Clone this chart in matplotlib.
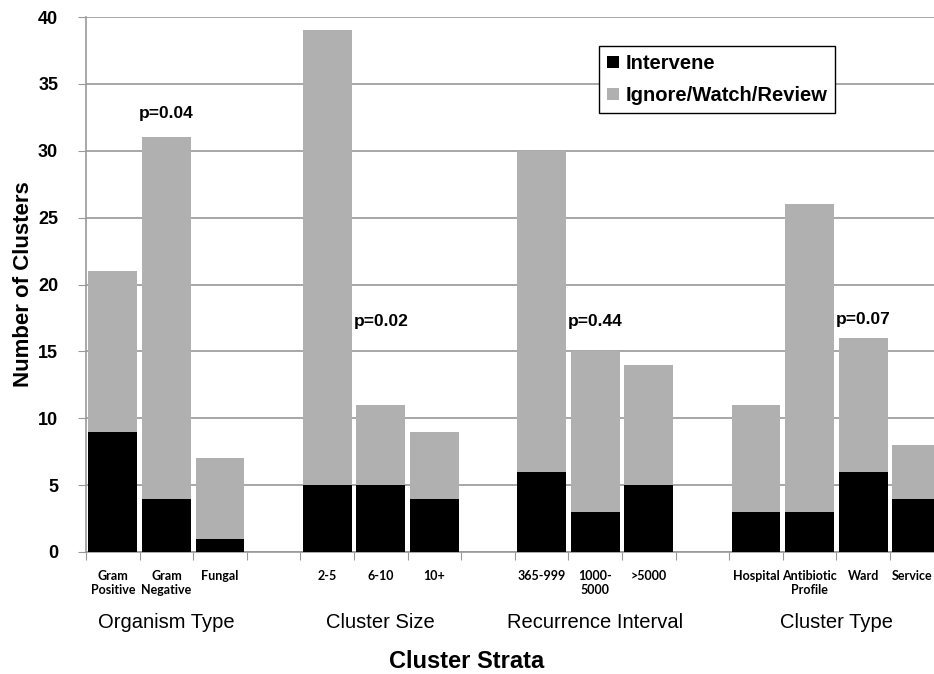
import matplotlib
matplotlib.use("Agg")
import matplotlib.pyplot as plt
import matplotlib.transforms as mtransforms
import numpy as np

# bar labels, one slot per bar, "" for the gaps between groups
labels = ["Gram\nPositive", "Gram\nNegative", "Fungal", "",
          "2-5", "6-10", "10+", "",
          "365-999", "1000-\n5000", ">5000", "",
          "Hospital", "Antibiotic\nProfile", "Ward", "Service"]
intervene = [9, 4, 1, 0, 5, 5, 4, 0, 6, 3, 5, 0, 3, 3, 6, 4]
totals = [21, 31, 7, 0, 39, 11, 9, 0, 30, 15, 14, 0, 11, 26, 16, 8]

groups = ["Organism Type", "Cluster Size", "Recurrence Interval", "Cluster Type"]
group_slots = [1, 5, 9, 13.5]

p_labels = ["p=0.04", "p=0.02", "p=0.44", "p=0.07"]
p_slots = [1, 5, 9, 14]
p_heights = [32.8, 17.2, 17.2, 17.4]

sans = ["Liberation Sans", "DejaVu Sans"]
plt.rcParams['font.family'] = sans

ignore = [t - i for t, i in zip(totals, intervene)]
x = np.arange(len(labels))
keep = [t > 0 for t in totals]

fig = plt.figure(figsize=(9.34, 6.74), dpi=100)
ax = fig.add_axes([86 / 934, 122 / 674, 16 * 53.6 / 934, 535 / 674])

xb = x[keep]
ib = np.array(intervene)[keep]
gb = np.array(ignore)[keep]
ax.bar(xb, ib, 0.91, color="black", label="Intervene", zorder=3)
ax.bar(xb, gb, 0.91, bottom=ib, color="#b0b0b0", label="Ignore/Watch/Review", zorder=3)

ax.set_xlim(-0.5, len(labels) - 0.5)
ax.set_ylim(0, 40)
ax.set_yticks(range(0, 41, 5))
ax.yaxis.grid(True, color="#a0a0a0", linewidth=1.3, zorder=0)
ax.set_axisbelow(True)

for s in ["top", "right"]:
    ax.spines[s].set_visible(False)
for s in ["left", "bottom"]:
    ax.spines[s].set_color("#999999")
    ax.spines[s].set_linewidth(1.2)

ax.tick_params(axis="y", direction="out", length=6, color="#999999", pad=14,
               labelsize=13)
for t in ax.get_yticklabels():
    t.set_fontweight("bold")

# boundary ticks between slots, labels at slot centres
ax.set_xticks(np.arange(-0.5, len(labels), 1))
ax.set_xticklabels([])
ax.tick_params(axis="x", which="major", direction="out", length=6, color="#999999")
ax.set_xticks(x, minor=True)
ax.set_xticklabels(labels, minor=True, fontsize=9, fontweight="bold",
                   family=["Lato", "DejaVu Sans"], linespacing=1.15, va="top")
ax.tick_params(axis="x", which="minor", length=0, pad=13)
# last label sits on the right edge, nudge it in a little
last = ax.get_xticklabels(minor=True)[-1]
last.set_transform(last.get_transform() +
                   mtransforms.ScaledTranslation(-5 / 100, 0, fig.dpi_scale_trans))

for g, s in zip(groups, group_slots):
    ax.text(s, -5.3, g, ha="center", va="center", fontsize=14.5,
            transform=ax.transData, clip_on=False)

fig.text(467 / 934, 1 - 662 / 674, "Cluster Strata", ha="center", va="center",
         fontsize=17, fontweight="bold")
ax.set_ylabel("Number of Clusters", fontsize=16, fontweight="bold", labelpad=3)

for p, s, h in zip(p_labels, p_slots, p_heights):
    ax.text(s, h, p, ha="center", va="center", fontsize=12.5, fontweight="bold")

leg = ax.legend(loc="upper left", bbox_to_anchor=(599 / 934, 1 - 46 / 674),
                bbox_transform=fig.transFigure, borderaxespad=0, fancybox=False,
                edgecolor="black", framealpha=1, handlelength=0.6, handleheight=0.6,
                handletextpad=0.3, labelspacing=0.65, borderpad=0.4,
                prop={"size": 14.5, "weight": "bold"})
leg.get_frame().set_linewidth(1.0)

fig.savefig("out.png", dpi=100)
